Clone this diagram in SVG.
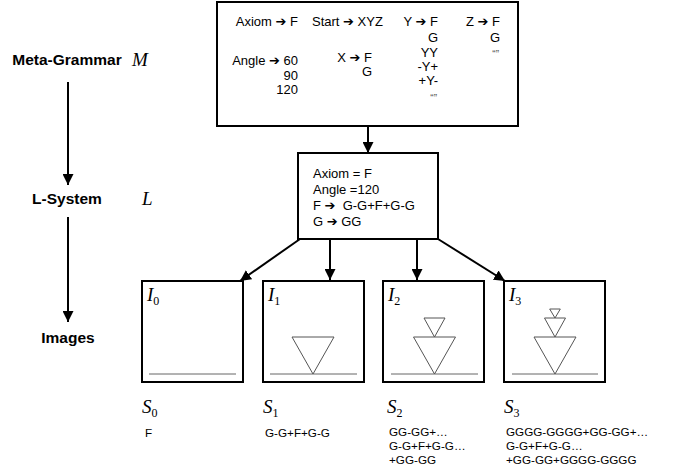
<svg xmlns="http://www.w3.org/2000/svg" width="673" height="472" viewBox="0 0 673 472">
<defs>
<marker id="ah" markerUnits="userSpaceOnUse" markerWidth="11" markerHeight="11" refX="10" refY="5" orient="auto" viewBox="0 0 10 10">
<path d="M0,0 L10,5 L0,10 z" fill="#000"/>
</marker>
</defs>
<style>
.box{fill:#fff;stroke:#000;stroke-width:2}
.t{font-family:"Liberation Sans","DejaVu Sans",Arial,sans-serif;font-size:13px;fill:#000;white-space:pre}
.s{font-family:"Liberation Sans","DejaVu Sans",Arial,sans-serif;font-size:11.7px;fill:#000}
.lab{font-family:"Liberation Sans",Arial,sans-serif;font-size:15.5px;font-weight:bold;fill:#000}
.m{font-family:"Liberation Serif","DejaVu Serif",serif;font-style:italic;font-size:19px;fill:#000}
.sub{font-family:"Liberation Serif","DejaVu Serif",serif;font-style:normal;font-size:12px}
.q{font-family:"Liberation Sans",sans-serif;font-size:10px;fill:#555}
.conn{stroke:#000;stroke-width:2;fill:none;marker-end:url(#ah)}
.g{stroke:#666;stroke-width:1;fill:none}
.tri{stroke:#555;stroke-width:1;fill:none}
</style>
<rect width="673" height="472" fill="#fff"/>

<g id="labels">
<text class="lab" x="67" y="65" text-anchor="middle">Meta-Grammar</text>
<text class="m" x="132" y="66">M</text>
<text class="lab" x="67" y="204" text-anchor="middle">L-System</text>
<text class="m" x="142" y="205">L</text>
<text class="lab" x="68" y="343" text-anchor="middle">Images</text>
</g>

<g id="meta">
<rect class="box" x="217" y="2" width="301" height="124"/>
<text class="t" x="298" y="26" text-anchor="end">Axiom ➔ F</text>
<text class="t" x="298" y="65" text-anchor="end">Angle ➔ 60</text>
<text class="t" x="298" y="80" text-anchor="end">90</text>
<text class="t" x="298" y="94" text-anchor="end">120</text>
<text class="t" x="312" y="26">Start ➔ XYZ</text>
<text class="t" x="372" y="62" text-anchor="end">X ➔ F</text>
<text class="t" x="372" y="76" text-anchor="end">G</text>
<text class="t" x="438" y="26" text-anchor="end">Y ➔ F</text>
<text class="t" x="438" y="42" text-anchor="end">G</text>
<text class="t" x="438" y="57" text-anchor="end">YY</text>
<text class="t" x="438" y="71" text-anchor="end">-Y+</text>
<text class="t" x="438" y="85" text-anchor="end">+Y-</text>
<text class="q" x="437" y="102" text-anchor="end">“”</text>
<text class="t" x="500" y="26" text-anchor="end">Z ➔ F</text>
<text class="t" x="500" y="42" text-anchor="end">G</text>
<text class="q" x="499" y="58" text-anchor="end">“”</text>
</g>

<g id="lsystem">
<rect class="box" x="298" y="153" width="140" height="86"/>
<text class="t" x="313" y="178">Axiom = F</text>
<text class="t" x="313" y="194">Angle =120</text>
<text class="t" x="313" y="210">F ➔  G-G+F+G-G</text>
<text class="t" x="313" y="226">G ➔ GG</text>
</g>

<g id="img0">
<rect class="box" x="142" y="281" width="101" height="101"/>
<text class="m" x="147" y="301">I<tspan class="sub" dy="4">0</tspan></text>
<line class="g" x1="149" y1="374" x2="236" y2="374"/>
</g>
<g id="img1">
<rect class="box" x="263" y="281" width="101" height="101"/>
<text class="m" x="268" y="301">I<tspan class="sub" dy="4">1</tspan></text>
<line class="g" x1="270" y1="374" x2="357" y2="374"/>
<polygon class="tri" points="292,337 334,337 313,374"/>
</g>
<g id="img2">
<rect class="box" x="383" y="281" width="101" height="101"/>
<text class="m" x="388" y="301">I<tspan class="sub" dy="4">2</tspan></text>
<line class="g" x1="391" y1="374" x2="478" y2="374"/>
<polygon class="tri" points="413.5,337 455.5,337 434.5,374"/>
<polygon class="tri" points="424,318 445,318 434.5,337"/>
</g>
<g id="img3">
<rect class="box" x="504" y="281" width="101" height="101"/>
<text class="m" x="509" y="301">I<tspan class="sub" dy="4">3</tspan></text>
<line class="g" x1="512" y1="374" x2="598" y2="374"/>
<polygon class="tri" points="534,337 576,337 555,374"/>
<polygon class="tri" points="544.5,318 565.5,318 555,337"/>
<polygon class="tri" points="549.7,309 560.3,309 555,318"/>
</g>

<g id="strings">
<text class="m" x="142" y="413">S<tspan class="sub" dy="4">0</tspan></text>
<text class="s" x="145" y="437">F</text>
<text class="m" x="263" y="413">S<tspan class="sub" dy="4">1</tspan></text>
<text class="s" x="265" y="437">G-G+F+G-G</text>
<text class="m" x="387" y="413">S<tspan class="sub" dy="4">2</tspan></text>
<text class="s" x="389" y="436">GG-GG+…</text>
<text class="s" x="389" y="450">G-G+F+G-G…</text>
<text class="s" x="389" y="464">+GG-GG</text>
<text class="m" x="504" y="413">S<tspan class="sub" dy="4">3</tspan></text>
<text class="s" x="506" y="436">GGGG-GGGG+GG-GG+…</text>
<text class="s" x="506" y="450">G-G+F+G-G…</text>
<text class="s" x="506" y="464">+GG-GG+GGGG-GGGG</text>
</g>

<g id="connectors">
<line class="conn" x1="68" y1="82" x2="68" y2="185"/>
<line class="conn" x1="68" y1="217" x2="68" y2="322"/>
<line class="conn" x1="368" y1="126" x2="368" y2="153"/>
<line class="conn" x1="300" y1="239" x2="240" y2="281"/>
<line class="conn" x1="330" y1="239" x2="330" y2="280"/>
<line class="conn" x1="417" y1="239" x2="417" y2="280"/>
<line class="conn" x1="438" y1="239" x2="505" y2="281"/>
</g>
</svg>
